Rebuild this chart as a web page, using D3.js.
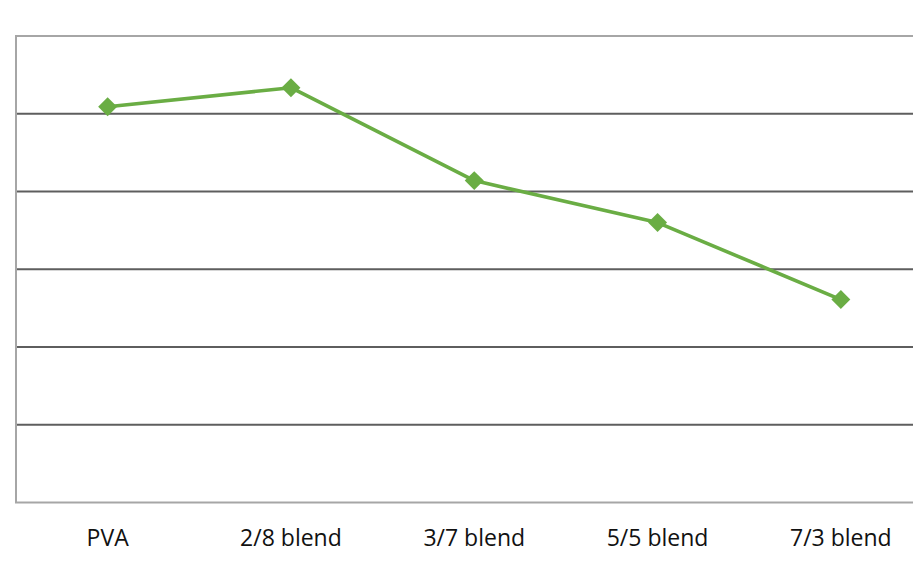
<!DOCTYPE html>
<html>
<head>
<meta charset="utf-8">
<script src="https://cdn.jsdelivr.net/npm/d3@7"></script>
<style>
  html, body { margin: 0; padding: 0; background: #fff; }
  svg { display: block; }
</style>
</head>
<body>
<svg id="chart" width="913" height="564"></svg>
<script>
// Blend ratios along the x axis and the measured values for each
const categories = ["PVA", "2/8 blend", "3/7 blend", "5/5 blend", "7/3 blend"];
const values = [5.09, 5.335, 4.14, 3.60, 2.61];
const yTicks = [0, 1, 2, 3, 4, 5, 6];

const svg = d3.select("#chart");
const plot = { left: 16, top: 36, right: 932.5, bottom: 502.5 };

const x = d3.scaleBand().domain(categories).range([plot.left, plot.right]).padding(0);
const y = d3.scaleLinear().domain([0, 6]).range([plot.bottom, plot.top]);

// horizontal gridlines
svg.append("g")
  .selectAll("line")
  .data(yTicks.filter(t => t > 0 && t < 6))
  .join("line")
  .attr("x1", plot.left)
  .attr("x2", 913)
  .attr("y1", d => y(d))
  .attr("y2", d => y(d))
  .attr("stroke", "#5e5e5e")
  .attr("stroke-width", 1.8);

// plot area frame
svg.append("rect")
  .attr("x", plot.left)
  .attr("y", plot.top)
  .attr("width", plot.right - plot.left)
  .attr("height", plot.bottom - plot.top)
  .attr("fill", "none")
  .attr("stroke", "#a6a6a6")
  .attr("stroke-width", 2);

// category axis labels
const xAxis = d3.axisBottom(x).tickSize(0).tickPadding(0);
const gx = svg.append("g")
  .attr("transform", `translate(0,${plot.bottom})`)
  .call(xAxis);
gx.select(".domain").remove();
gx.selectAll("text")
  .attr("dy", 0)
  .attr("y", 43)
  .attr("fill", "#111")
  .style("font-family", "'Open Sans', 'Noto Sans', sans-serif")
  .style("font-size", "23px");

// series line
const line = d3.line()
  .x((d, i) => x(categories[i]) + x.bandwidth() / 2)
  .y(d => y(d));

svg.append("path")
  .datum(values)
  .attr("d", line)
  .attr("fill", "none")
  .attr("stroke", "#6aad44")
  .attr("stroke-width", 3.6)
  .attr("stroke-linejoin", "round");

// diamond markers
svg.append("g")
  .selectAll("path")
  .data(values)
  .join("path")
  .attr("transform", (d, i) => `translate(${x(categories[i]) + x.bandwidth() / 2},${y(d)}) rotate(45)`)
  .attr("d", d3.symbol().type(d3.symbolSquare).size(180))
  .attr("fill", "#6aad44");
</script>
</body>
</html>
